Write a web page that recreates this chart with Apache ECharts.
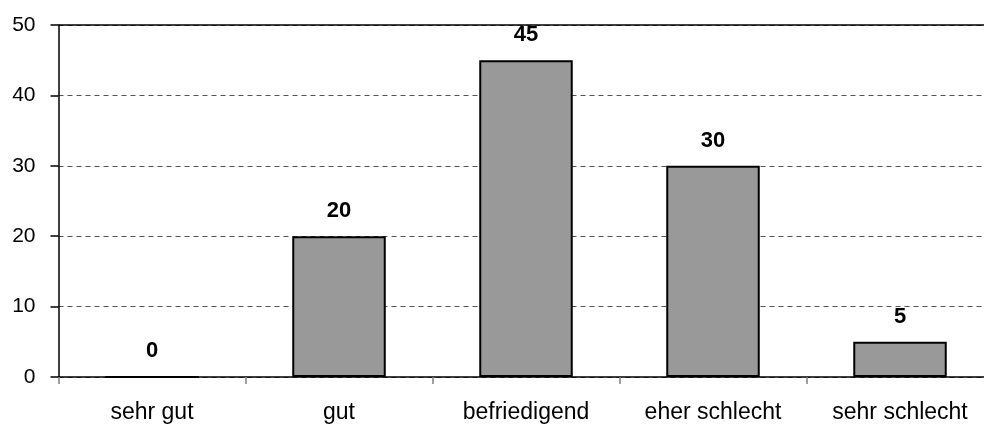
<!DOCTYPE html>
<html>
<head>
<meta charset="utf-8">
<script src="https://cdn.jsdelivr.net/npm/echarts@6/dist/echarts.min.js"></script>
<style>
html,body{margin:0;padding:0;background:#fff;overflow:hidden;width:984px;height:424px;}
#chart{width:1000px;height:424px;}
</style>
</head>
<body>
<div id="chart"></div>
<script>
const categories = ['sehr gut', 'gut', 'befriedigend', 'eher schlecht', 'sehr schlecht'];
const values = [0, 20, 45, 30, 5];
const yTicks = [0, 10, 20, 30, 40, 50];

const chart = echarts.init(document.getElementById('chart'), null, {renderer: 'canvas'});
const font = '"Liberation Sans", Arial, sans-serif';
chart.setOption({
  animation: false,
  grid: {left: 58.5, top: 25, width: 935, height: 352},
  xAxis: {
    type: 'category',
    data: categories,
    boundaryGap: true,
    axisLine: {lineStyle: {color: '#000', width: 1.5}},
    axisTick: {show: true, length: 7, lineStyle: {color: '#808080', width: 1.5}},
    axisLabel: {color: '#000', fontSize: 23, fontFamily: font, margin: 24}
  },
  yAxis: {
    type: 'value',
    min: yTicks[0],
    max: yTicks[yTicks.length - 1],
    interval: 10,
    axisLine: {show: true, lineStyle: {color: '#000', width: 1.5}},
    axisTick: {show: true, length: 8, lineStyle: {color: '#000', width: 1.5}},
    axisLabel: {color: '#000', fontSize: 21, fontFamily: font, margin: 23},
    splitLine: {show: true, lineStyle: {color: '#555', width: 1, type: [5, 4]}}
  },
  series: [{
    type: 'bar',
    data: values,
    barWidth: '50%',
    itemStyle: {color: '#999999', borderColor: '#000', borderWidth: 2},
    label: {
      show: true,
      position: 'top',
      distance: 14,
      color: '#000',
      fontSize: 22,
      fontWeight: 'bold',
      fontFamily: font
    },
    markLine: {
      silent: true,
      symbol: 'none',
      label: {show: false},
      lineStyle: {color: '#000', width: 1.5, type: 'solid'},
      data: [{yAxis: yTicks[yTicks.length - 1]}]
    }
  }]
});
</script>
</body>
</html>
